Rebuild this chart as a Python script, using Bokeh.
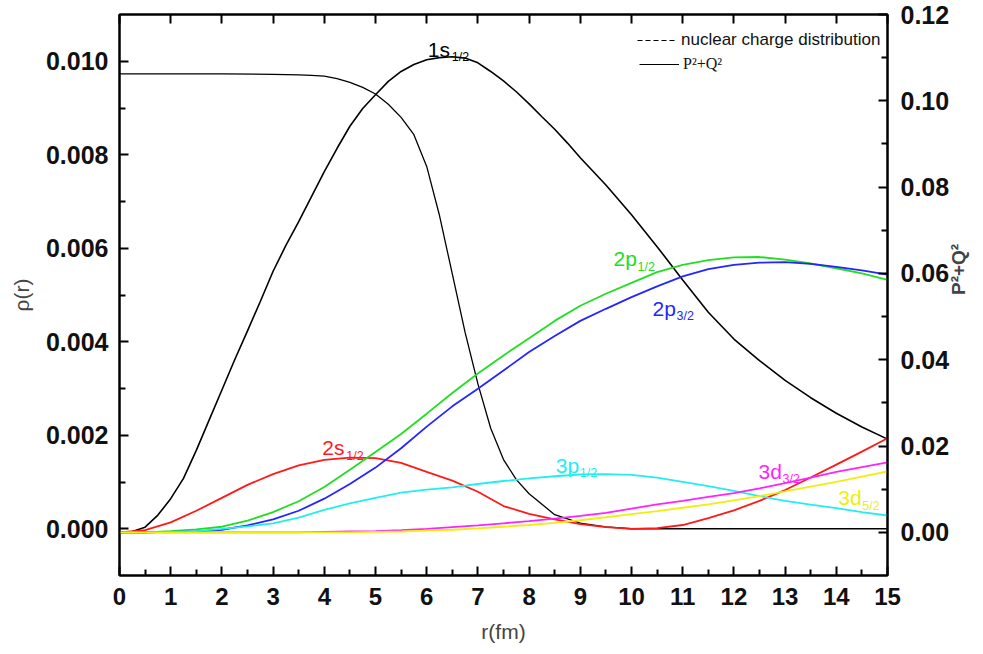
import math
from bokeh.plotting import figure
from bokeh.models import (Range1d, LinearAxis, FixedTicker, PrintfTickFormatter,
                          Legend, LegendItem, ColumnDataSource)
from bokeh.core.properties import value
from bokeh.embed import file_html
from bokeh.resources import INLINE

# ---------------- data ----------------
r_1s = [0, 0.25, 0.5, 0.75, 1, 1.25, 1.5, 1.75, 2, 2.25, 2.5, 2.75, 3, 3.25, 3.5, 3.75,
        4, 4.25, 4.5, 4.75, 5, 5.25, 5.5, 5.75, 6, 6.25, 6.5, 6.75, 7, 7.25, 7.5, 7.75,
        8, 8.25, 8.5, 8.75, 9, 9.5, 10, 10.5, 11, 11.5, 12, 12.5, 13, 13.5, 14, 14.5, 15]
wave_1s = [0.0, 0.0002, 0.0012, 0.0040, 0.0078, 0.0125, 0.0190, 0.0260, 0.0330, 0.0400,
           0.0467, 0.0535, 0.0605, 0.0665, 0.0720, 0.0778, 0.0836, 0.0890, 0.0941, 0.0982,
           0.1014, 0.1045, 0.1068, 0.1084, 0.1095, 0.1100, 0.1102, 0.1099, 0.1088, 0.1068,
           0.1046, 0.1021, 0.0993, 0.0963, 0.0934, 0.0902, 0.0868, 0.0805, 0.0736, 0.0662,
           0.0585, 0.0510, 0.0448, 0.0398, 0.0352, 0.0312, 0.0276, 0.0244, 0.0216]

r_grid = [0, 0.5, 1, 1.5, 2, 2.5, 3, 3.5, 4, 4.5, 5, 5.5, 6, 6.5, 7, 7.5,
          8, 8.5, 9, 9.5, 10, 10.5, 11, 11.5, 12, 12.5, 13, 13.5, 14, 14.5, 15]
wave_2s = [0.0, 0.0005, 0.0023, 0.0050, 0.0080, 0.0110, 0.0135, 0.0155, 0.0168, 0.0173,
           0.0172, 0.0161, 0.0140, 0.0120, 0.0094, 0.0061, 0.0043, 0.0030, 0.0019, 0.0012,
           0.0008, 0.0010, 0.0017, 0.0033, 0.0051, 0.0073, 0.0098, 0.0127, 0.0157, 0.0187, 0.0218]
wave_2p12 = [0.0, 0.0, 0.0003, 0.0007, 0.0013, 0.0027, 0.0047, 0.0072, 0.0105, 0.0145,
             0.0186, 0.0228, 0.0275, 0.0323, 0.0368, 0.0410, 0.0450, 0.0490, 0.0525, 0.0553,
             0.0578, 0.0603, 0.0620, 0.0631, 0.0637, 0.0638, 0.0632, 0.0623, 0.0612, 0.0600, 0.0585]
wave_2p32 = [0.0, 0.0, 0.0001, 0.0002, 0.0006, 0.0016, 0.0030, 0.0050, 0.0078, 0.0112,
             0.0150, 0.0195, 0.0245, 0.0292, 0.0333, 0.0375, 0.0418, 0.0455, 0.0490, 0.0518,
             0.0545, 0.0570, 0.0593, 0.0610, 0.0620, 0.0625, 0.0626, 0.0622, 0.0615, 0.0607, 0.0597]
wave_3p12 = [0.0, 0.0, 0.0001, 0.0003, 0.0008, 0.0014, 0.0021, 0.0034, 0.0052, 0.0067,
             0.0080, 0.0092, 0.0099, 0.0104, 0.0112, 0.0119, 0.0125, 0.0130, 0.0134, 0.0135,
             0.0133, 0.0127, 0.0117, 0.0107, 0.0096, 0.0084, 0.0073, 0.0064, 0.0056, 0.0047, 0.0039]
wave_3d32 = [0.0, 0.0, 0.0, 0.0, 0.0, 0.0, 0.0, 0.0, 0.0001, 0.0002,
             0.0003, 0.0005, 0.0008, 0.0012, 0.0016, 0.0021, 0.0026, 0.0032, 0.0038, 0.0045,
             0.0055, 0.0065, 0.0073, 0.0082, 0.0091, 0.0102, 0.0114, 0.0127, 0.0140, 0.0151, 0.0162]
wave_3d52 = [0.0, 0.0, 0.0, 0.0, 0.0, 0.0, 0.0, 0.0, 0.0, 0.0,
             0.0001, 0.0002, 0.0004, 0.0006, 0.0009, 0.0013, 0.0017, 0.0022, 0.0028, 0.0035,
             0.0042, 0.0049, 0.0057, 0.0065, 0.0074, 0.0084, 0.0095, 0.0106, 0.0117, 0.0129, 0.0141]

r_nuc = [0, 1, 2, 3, 3.5, 3.75, 4, 4.25, 4.5, 4.75, 5, 5.25, 5.5, 5.75, 6, 6.25, 6.5,
         6.75, 7, 7.25, 7.5, 7.75, 8, 8.5, 9, 9.5, 10, 15]
rho_nuc = [0.00973, 0.00973, 0.00973, 0.00972, 0.00971, 0.00970, 0.00968, 0.00963, 0.00955,
           0.00944, 0.00930, 0.00908, 0.00880, 0.00843, 0.00775, 0.00670, 0.00545, 0.00420,
           0.00310, 0.00215, 0.00148, 0.00105, 0.00075, 0.00030, 0.00012, 0.00004, 0.0, 0.0]

curve_r = [r_1s, r_grid, r_grid, r_grid, r_grid, r_grid, r_grid]
curve_values = [wave_1s, wave_2s, wave_2p12, wave_2p32, wave_3p12, wave_3d32, wave_3d52]
curve_names = ["1s", "2s", "2p", "2p", "3p", "3d", "3d"]
curve_subs = ["1/2", "1/2", "1/2", "3/2", "1/2", "3/2", "5/2"]
curve_colors = ["#000000", "#ff1a1a", "#22dd22", "#2525ff", "#22eeee", "#ff22ff", "#eeee11"]
label_x = [6.02, 3.96, 9.65, 10.41, 8.52, 12.48, 14.04]
label_y = [0.1119, 0.0196, 0.0634, 0.0519, 0.0156, 0.0142, 0.0080]

x_ticks = list(range(0, 16))
x_minor = [i + 0.5 for i in range(0, 15)]
left_ticks = [0.0, 0.002, 0.004, 0.006, 0.008, 0.010]
left_minor = [0.001, 0.003, 0.005, 0.007, 0.009]
right_ticks = [0.0, 0.02, 0.04, 0.06, 0.08, 0.10, 0.12]
right_minor = [0.01, 0.03, 0.05, 0.07, 0.09, 0.11]

# ---------------- figure ----------------
p = figure(width=983, height=654, output_backend="svg", toolbar_location=None,
           x_range=Range1d(0, 15), y_range=Range1d(-0.001, 0.011),
           min_border_left=119, min_border_right=96, min_border_top=14, min_border_bottom=79)
p.extra_y_ranges = {"right": Range1d(-0.01, 0.12)}
p.xgrid.visible = False
p.ygrid.visible = False
p.outline_line_color = "black"
p.outline_line_width = 2
p.background_fill_color = "white"
p.border_fill_color = "white"

def style_axis(ax):
    ax.axis_line_width = 2
    ax.axis_line_color = "black"
    ax.major_tick_in = 9
    ax.major_tick_out = 0
    ax.minor_tick_in = 6
    ax.minor_tick_out = 0
    ax.major_tick_line_width = 2
    ax.minor_tick_line_width = 2
    ax.major_label_text_color = "#111111"

xa = p.xaxis[0]
style_axis(xa)
xa.ticker = FixedTicker(ticks=x_ticks, minor_ticks=x_minor)
xa.major_label_text_font = "Liberation Sans"
xa.major_label_text_font_style = "bold"
xa.major_label_text_font_size = "24px"
xa.major_label_standoff = 12
xa.axis_label = "r(fm)"
xa.axis_label_text_font = "Liberation Sans"
xa.axis_label_text_font_style = "normal"
xa.axis_label_text_font_size = "21px"
xa.axis_label_standoff = 12

ya = p.yaxis[0]
style_axis(ya)
ya.ticker = FixedTicker(ticks=left_ticks, minor_ticks=left_minor)
ya.formatter = PrintfTickFormatter(format="%.3f")
ya.major_label_text_font = "Liberation Sans"
ya.major_label_text_font_style = "bold"
ya.major_label_text_font_size = "25px"
ya.major_label_standoff = 11
ya.axis_label = "ρ(r)"
ya.axis_label_text_font = "Liberation Sans"
ya.axis_label_text_font_style = "normal"
ya.axis_label_text_font_size = "21px"
ya.axis_label_standoff = 10

yr = LinearAxis(y_range_name="right")
style_axis(yr)
yr.ticker = FixedTicker(ticks=right_ticks, minor_ticks=right_minor)
yr.formatter = PrintfTickFormatter(format="%.2f")
yr.major_label_text_font = "Liberation Sans"
yr.major_label_text_font_style = "bold"
yr.major_label_text_font_size = "25px"
yr.major_label_standoff = 13
yr.axis_label = "P²+Q²"
yr.axis_label_text_font = "Liberation Sans"
yr.axis_label_text_font_style = "bold"
yr.axis_label_text_font_size = "19px"
yr.axis_label_text_line_height = 0.6
yr.axis_label_text_align = "center"
yr.axis_label_standoff = 6
yr.axis_label_orientation = math.pi / 2
p.add_layout(yr, "right")

xt = LinearAxis()
style_axis(xt)
xt.ticker = FixedTicker(ticks=x_ticks, minor_ticks=[])
xt.major_label_text_font_size = "1px"
xt.major_label_text_color = None
xt.major_label_standoff = 0
xt.minor_tick_line_color = None
p.add_layout(xt, "above")

# ---------------- curves ----------------
p.line(r_nuc, rho_nuc, line_color="black", line_width=1.3)
for rr, vals, col in zip(curve_r, curve_values, curve_colors):
    p.line(rr, vals, line_color=col, line_width=1.8 if col != "#000000" else 1.6,
           y_range_name="right")

lab_src = ColumnDataSource(dict(x=label_x, y=label_y, t=curve_names, s=curve_subs, c=curve_colors))
p.text(x="x", y="y", text="t", text_color="c", source=lab_src, y_range_name="right",
       text_font=value("Liberation Sans"), text_font_size="21px",
       text_align="left", text_baseline="alphabetic")
p.text(x="x", y="y", text="s", text_color="c", source=lab_src, y_range_name="right",
       text_font=value("Liberation Sans"), text_font_size="12.5px",
       text_align="left", text_baseline="alphabetic", x_offset=24, y_offset=8)

# ---------------- legend ----------------
nan = float("nan")
dash_r = p.line(x=[nan, nan], y=[nan, nan], line_color="black", line_width=1.2, line_dash="5 3")
solid_r = p.line(x=[nan, nan], y=[nan, nan], line_color="black", line_width=1.2)

def make_legend(item, font, size, loc):
    lg = Legend(items=[item], location=loc, glyph_width=40, glyph_height=20,
                label_standoff=4, padding=0, margin=0, spacing=0,
                border_line_color=None, background_fill_alpha=0,
                label_text_font=font, label_text_font_size=size,
                label_text_color="#111111")
    p.add_layout(lg)
    return lg

make_legend(LegendItem(label="nuclear charge distribution", renderers=[dash_r]),
            "Liberation Sans", "17px", (518, 525))
make_legend(LegendItem(label="P²+Q²", renderers=[solid_r]),
            "Liberation Serif", "16px", (520, 501))

open("out.html", "w").write(file_html(p, INLINE))
